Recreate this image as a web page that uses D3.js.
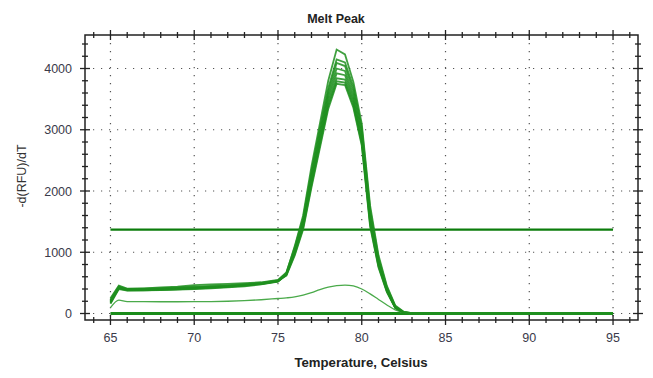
<!DOCTYPE html>
<html>
<head>
<meta charset="utf-8">
<script src="https://cdn.jsdelivr.net/npm/d3@7"></script>
<style>
  body { margin: 0; background: #fff; }
  text { font-family: "Liberation Sans", Arial, sans-serif; }
</style>
</head>
<body>
<div id="chart"></div>
<script>
const margin = {top: 35, right: 15, bottom: 58, left: 85};
const W = 653, H = 378;

// temperatures shared by all melt curves
const temps = [65, 65.5, 66, 67, 68, 69, 70, 71, 72, 73, 74, 75, 75.5, 76, 76.5, 77, 77.5, 78, 78.5, 79, 79.5, 80, 80.5, 81, 81.5, 82, 82.5, 83, 85, 90, 95];

// -d(RFU)/dT for each well
const well1 = [190, 430, 395, 400, 410, 425, 440, 450, 465, 480, 500, 540, 660, 1100, 1600, 2400, 3100, 3800, 4310, 4230, 3780, 3100, 1760, 950, 450, 130, 28, 5, 0, 0, 0];
const well2 = [230, 445, 400, 410, 425, 440, 465, 475, 485, 495, 510, 550, 670, 1080, 1560, 2330, 3020, 3680, 4150, 4100, 3700, 3040, 1700, 910, 430, 120, 24, 4, 0, 0, 0];
const well3 = [170, 420, 385, 385, 390, 400, 410, 425, 440, 460, 490, 530, 650, 1050, 1520, 2280, 2960, 3620, 4090, 4040, 3630, 2980, 1640, 870, 410, 112, 21, 4, 0, 0, 0];
const well4 = [200, 410, 380, 380, 385, 395, 405, 420, 435, 455, 480, 525, 645, 1030, 1490, 2230, 2900, 3560, 4000, 3960, 3560, 2920, 1580, 840, 395, 108, 20, 4, 0, 0, 0];
const well5 = [160, 400, 375, 378, 383, 390, 400, 410, 425, 445, 475, 520, 635, 1010, 1460, 2190, 2850, 3500, 3920, 3890, 3500, 2860, 1530, 810, 380, 100, 18, 3, 0, 0, 0];
const well6 = [250, 455, 405, 405, 410, 420, 430, 440, 450, 465, 485, 530, 640, 990, 1430, 2140, 2800, 3440, 3840, 3820, 3450, 2820, 1490, 790, 370, 96, 17, 3, 0, 0, 0];
const well7 = [180, 415, 390, 392, 398, 405, 415, 430, 445, 462, 488, 528, 630, 970, 1400, 2100, 2750, 3390, 3790, 3770, 3400, 2780, 1450, 770, 360, 92, 16, 3, 0, 0, 0];
const well8 = [210, 425, 395, 395, 400, 410, 420, 435, 448, 470, 495, 535, 620, 950, 1370, 2060, 2700, 3340, 3750, 3730, 3360, 2740, 1420, 750, 350, 88, 15, 3, 0, 0, 0];
const lowWell = [95, 220, 195, 193, 192, 192, 193, 195, 200, 210, 225, 245, 255, 270, 300, 340, 390, 430, 455, 465, 450, 400, 320, 230, 140, 60, 15, 0, 0, 0, 0];
const blankWell = [0, 0, 0, 0, 0, 0, 0, 0, 0, 0, 0, 0, 0, 0, 0, 0, 0, 0, 0, 0, 0, 0, 0, 0, 0, 0, 0, 0, 0, 0, 0];

const threshold = 1370;

const xTicks = [65, 70, 75, 80, 85, 90, 95];
const yTicks = [0, 1000, 2000, 3000, 4000];

const width = W - margin.left - margin.right;
const height = H - margin.top - margin.bottom;

const svg = d3.select("#chart")
    .append("svg")
    .attr("width", W)
    .attr("height", H);

svg.append("text")
    .attr("x", 336)
    .attr("y", 23)
    .attr("text-anchor", "middle")
    .attr("font-size", 12.5)
    .attr("font-weight", "bold")
    .attr("fill", "#222")
    .text("Melt Peak");

const g = svg.append("g")
    .attr("transform", "translate(" + margin.left + "," + margin.top + ")");

const x = d3.scaleLinear().domain([63.48, 96.49]).range([0, width]);
const y = d3.scaleLinear().domain([-106, 4547]).range([height, 0]);

// dotted grid
g.append("g")
    .selectAll("line")
    .data(xTicks)
    .join("line")
    .attr("x1", d => x(d)).attr("x2", d => x(d))
    .attr("y1", 0).attr("y2", height)
    .attr("stroke", "#555")
    .attr("stroke-width", 1.2)
    .attr("stroke-dasharray", "1.2,6.8");

g.append("g")
    .selectAll("line")
    .data(yTicks)
    .join("line")
    .attr("x1", 0).attr("x2", width)
    .attr("y1", d => y(d)).attr("y2", d => y(d))
    .attr("stroke", "#555")
    .attr("stroke-width", 1.2)
    .attr("stroke-dasharray", "1.2,6.8");

// lines
const line = d3.line()
    .x((d, i) => x(temps[i]))
    .y(d => y(d));

g.append("path")
    .attr("fill", "none")
    .attr("stroke", "#0c7c0c")
    .attr("stroke-width", 2.2)
    .attr("d", d3.line().x(d => x(d)).y(() => y(threshold))([65, 95]));

g.append("path")
    .datum(blankWell)
    .attr("fill", "none")
    .attr("stroke", "#1a8c1a")
    .attr("stroke-width", 3)
    .attr("d", line);

g.append("path")
    .datum(lowWell)
    .attr("fill", "none")
    .attr("stroke", "#4aaa4a")
    .attr("stroke-width", 1.3)
    .attr("d", d3.line().x((d, i) => x(temps[i])).y(d => y(d)).curve(d3.curveMonotoneX));

const wells = [well8, well7, well6, well5, well4, well3, well2, well1];
g.append("g")
    .selectAll("path")
    .data(wells)
    .join("path")
    .attr("fill", "none")
    .attr("stroke", "#1f8f1f")
    .attr("stroke-opacity", 0.85)
    .attr("stroke-width", 1.8)
    .attr("d", line);

// frame with ticks
const xMinor = d3.range(64, 97, 1);
const yMinor = d3.range(0, 4547, 200);

function frameTicks(sel, vals, pos, major) {
    sel.selectAll("line")
        .data(vals)
        .join("line")
        .each(function (d) {
            const big = major.includes(d);
            const len = big ? 5 : 3;
            const p = pos(d);
            d3.select(this)
                .attr("x1", p.x - (p.v ? len : 0))
                .attr("x2", p.x + (p.v ? len : 0))
                .attr("y1", p.y - (p.v ? 0 : len))
                .attr("y2", p.y + (p.v ? 0 : len));
        })
        .attr("stroke", "#222")
        .attr("stroke-width", 1.3);
}

frameTicks(g.append("g"), xMinor, d => ({x: x(d), y: height, v: false}), xTicks);
frameTicks(g.append("g"), xMinor, d => ({x: x(d), y: 0, v: false}), xTicks);
frameTicks(g.append("g"), yMinor, d => ({x: 0, y: y(d), v: true}), yTicks);
frameTicks(g.append("g"), yMinor, d => ({x: width, y: y(d), v: true}), yTicks);

g.append("rect")
    .attr("width", width)
    .attr("height", height)
    .attr("fill", "none")
    .attr("stroke", "#222")
    .attr("stroke-width", 1.5);

// tick labels
g.append("g")
    .selectAll("text")
    .data(xTicks)
    .join("text")
    .attr("x", d => x(d))
    .attr("y", height + 22)
    .attr("text-anchor", "middle")
    .attr("font-size", 12.5)
    .attr("fill", "#3a3a4a")
    .text(d => d);

g.append("g")
    .selectAll("text")
    .data(yTicks)
    .join("text")
    .attr("x", -13)
    .attr("y", d => y(d) + 4.5)
    .attr("text-anchor", "end")
    .attr("font-size", 12.5)
    .attr("fill", "#3a3a4a")
    .text(d => d);

svg.append("text")
    .attr("x", 361)
    .attr("y", 367)
    .attr("text-anchor", "middle")
    .attr("font-size", 13.2)
    .attr("font-weight", "bold")
    .attr("fill", "#222")
    .text("Temperature, Celsius");

svg.append("text")
    .attr("transform", "translate(26,176) rotate(-90)")
    .attr("text-anchor", "middle")
    .attr("font-size", 12.5)
    .attr("fill", "#333")
    .text("-d(RFU)/dT");
</script>
</body>
</html>
